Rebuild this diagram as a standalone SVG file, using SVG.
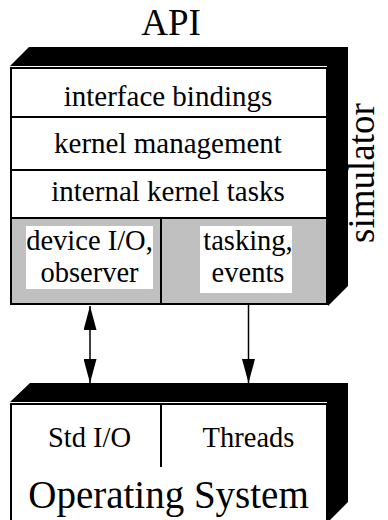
<svg xmlns="http://www.w3.org/2000/svg" width="388" height="520" viewBox="0 0 388 520">
<style>
.face{fill:#fff;stroke:#000;stroke-width:2}
.sep{stroke:#000;stroke-width:2;fill:none}
.slab{fill:#000}
.gray{fill:#c0c0c0}
.bg{fill:#fff}
.conn{stroke:#000;stroke-width:1.5;fill:none}
</style>
<defs>
<marker id="ah" markerUnits="userSpaceOnUse" markerWidth="24" markerHeight="13" refX="24" refY="6.5" orient="auto-start-reverse">
<path d="M0,0 L24,6.5 L0,13 z" fill="#000"/>
</marker>
</defs>
<text x="171" y="35" text-anchor="middle" style="font-family:'Liberation Serif','Times New Roman',serif;font-size:37px">API</text>
<g id="simulator">
<polygon class="slab" points="10,66 29,47 348,47 348,286 328,306 327,66"/>
<rect class="face" x="11" y="68" width="316" height="236"/>
<rect class="gray" x="12" y="218" width="314" height="85"/>
<line class="sep" x1="11" y1="117" x2="327" y2="117"/>
<line class="sep" x1="11" y1="170" x2="327" y2="170"/>
<line class="sep" x1="11" y1="218" x2="327" y2="218"/>
<line class="sep" x1="161" y1="218" x2="161" y2="304"/>
<rect class="face" x="11" y="68" width="316" height="236" style="fill:none"/>
<text transform="translate(374,173) rotate(-90)" text-anchor="middle" style="font-family:'Liberation Serif','Times New Roman',serif;font-size:37px">simulator</text>
</g>
<g id="interface-bindings"><text x="168" y="106" text-anchor="middle" style="font-family:'Liberation Serif','Times New Roman',serif;font-size:29px">interface bindings</text></g>
<g id="kernel-management"><text x="168" y="153" text-anchor="middle" style="font-family:'Liberation Serif','Times New Roman',serif;font-size:29px">kernel management</text></g>
<g id="internal-kernel-tasks"><text x="168" y="201" text-anchor="middle" style="font-family:'Liberation Serif','Times New Roman',serif;font-size:29px">internal kernel tasks</text></g>
<g id="device-io">
<rect class="bg" x="26" y="226" width="127" height="63"/>
<text x="89.5" y="250" text-anchor="middle" style="font-family:'Liberation Serif','Times New Roman',serif;font-size:28.5px">device I/O,</text>
<text x="89.5" y="281.5" text-anchor="middle" style="font-family:'Liberation Serif','Times New Roman',serif;font-size:28.5px">observer</text>
</g>
<g id="tasking">
<rect class="bg" x="200" y="226" width="92" height="67"/>
<text x="248" y="250" text-anchor="middle" style="font-family:'Liberation Serif','Times New Roman',serif;font-size:28.5px">tasking,</text>
<text x="248" y="281.5" text-anchor="middle" style="font-family:'Liberation Serif','Times New Roman',serif;font-size:28.5px">events</text>
</g>
<g id="operating-system">
<polygon class="slab" points="10,402 30,383 348,383 348,502 328,522 327,402"/>
<rect class="face" x="11" y="404" width="316" height="130"/>
<line class="sep" x1="161" y1="404" x2="161" y2="467"/>
<text x="89.5" y="446.5" text-anchor="middle" style="font-family:'Liberation Serif','Times New Roman',serif;font-size:28.5px">Std I/O</text>
<text x="248.5" y="446.5" text-anchor="middle" style="font-family:'Liberation Serif','Times New Roman',serif;font-size:28.5px">Threads</text>
<text x="168.5" y="508" text-anchor="middle" style="font-family:'Liberation Serif','Times New Roman',serif;font-size:39px">Operating System</text>
</g>
<g id="connectors">
<line class="conn" x1="90" y1="306" x2="90" y2="383" marker-start="url(#ah)" marker-end="url(#ah)"/>
<line class="conn" x1="248.5" y1="304" x2="248.5" y2="383" marker-end="url(#ah)"/>
</g>
</svg>
